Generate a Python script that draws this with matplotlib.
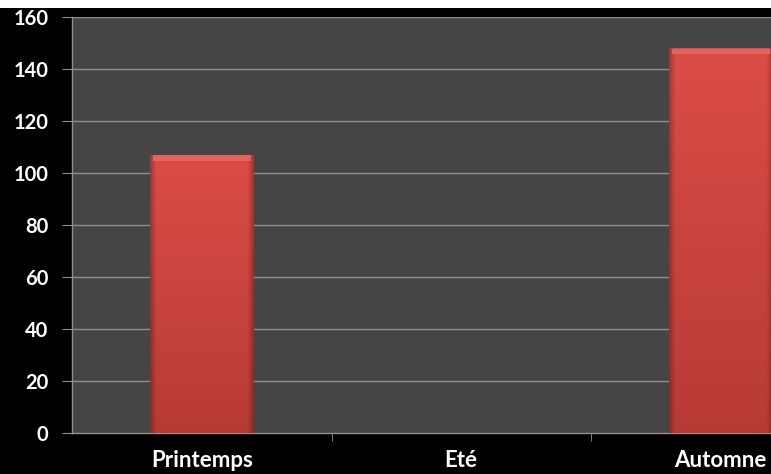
import matplotlib
matplotlib.use("Agg")
import matplotlib.pyplot as plt
import numpy as np
from matplotlib.patches import Rectangle

categories = ["Printemps", "Eté", "Automne"]
values = [107, 0, 148]
yticks = [0, 20, 40, 60, 80, 100, 120, 140, 160]

W, H = 771, 474
fig = plt.figure(figsize=(W/100, H/100), dpi=100, facecolor="black")
fig.patches.append(Rectangle((0, (H-8)/H), 1, 8/H, transform=fig.transFigure,
                             facecolor="white", edgecolor="none", zorder=0))
ax = fig.add_axes([72/W, (H-433)/H, (850.5-72)/W, (433-17)/H])
ax.set_facecolor("#454545")
ax.set_xlim(-0.5, 2.5)
ax.set_ylim(0, 160)

grid_c = "#8f8f8f"
for y in yticks[1:]:
    ax.axhline(y, color=grid_c, lw=1.0, zorder=1)

bw = 0.4
for i, v in enumerate(values):
    if v <= 0:
        continue
    bars = ax.bar(i, v, width=bw, color="#d4473f", edgecolor="none", zorder=2)
    p = bars[0]
    xs = np.linspace(0, 1, 200)
    prof = np.clip(np.minimum(xs, 1-xs) / 0.06, 0, 1)
    ys = np.linspace(0, 1, 200)[:, None]
    base_top = np.array([0.86, 0.30, 0.28])
    base_bot = np.array([0.72, 0.23, 0.21])
    base = base_bot + (base_top - base_bot) * ys[..., None] * np.ones((1, 200, 1))
    shade = 0.72 + 0.28 * prof
    img = base * shade[None, :, None]
    im = ax.imshow(img, extent=[i - bw/2, i + bw/2, 0, v], origin="lower",
                   aspect="auto", zorder=3, interpolation="bilinear")
    im.set_clip_path(p)
    ax.add_patch(Rectangle((i - bw/2 + 0.012, v - 2.4), bw - 0.024, 2.2,
                           facecolor="#e8625a", edgecolor="none", zorder=4))

ax.set_xlim(-0.5, 2.5)
ax.set_ylim(0, 160)
ax.set_yticks(yticks)
ax.set_yticklabels([str(t) for t in yticks])
ax.set_xticks(range(len(categories)))
ax.set_xticklabels(categories)
ax.set_xticks([0.5, 1.5], minor=True)
ax.tick_params(axis="x", which="major", length=0, pad=12, colors="white")
ax.tick_params(axis="x", which="minor", length=6, color=grid_c, direction="out")
ax.tick_params(axis="y", length=7, color=grid_c, pad=10, colors="white")
for lab in ax.get_xticklabels():
    lab.set_fontfamily("Lato")
    lab.set_fontweight("bold")
    lab.set_fontsize(16)
    lab.set_color("white")
for lab in ax.get_yticklabels():
    lab.set_fontfamily("Lato")
    lab.set_fontweight("bold")
    lab.set_fontsize(14.5)
    lab.set_color("white")
for s in ["top", "right"]:
    ax.spines[s].set_visible(False)
for s in ["left", "bottom"]:
    ax.spines[s].set_color(grid_c)
    ax.spines[s].set_linewidth(1.0)

fig.savefig("out.png", dpi=100, facecolor="black")
